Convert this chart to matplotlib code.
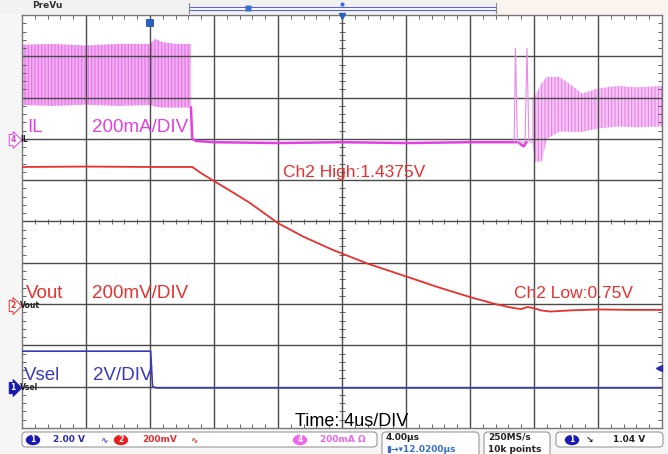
import matplotlib
import numpy as np

matplotlib.use("Agg")
import matplotlib.pyplot as plt  # noqa: E402
from matplotlib.patches import Ellipse, FancyBboxPatch, Rectangle  # noqa: E402

# Screen is 10 x 10 divisions; time in div (4 us/div), level in div from bottom.
# IL (ch4) switching band before the step: envelope of the ripple
IL_BAND_T = [0.0, 0.5, 1.0, 1.5, 2.0, 2.08, 2.2, 2.4, 2.64]
IL_BAND_HI = [9.28, 9.30, 9.26, 9.30, 9.30, 9.42, 9.34, 9.30, 9.30]
IL_BAND_LO = [7.82, 7.80, 7.83, 7.80, 7.82, 7.78, 7.76, 7.76, 7.76]

# IL while the converter idles
IL_T = [2.64, 2.66, 2.72, 3.0, 4.0, 5.0, 6.0, 7.0, 7.69, 7.76, 7.80, 7.84,
        7.88]
IL_V = [7.76, 7.00, 6.95, 6.92, 6.90, 6.92, 6.90, 6.92, 6.92, 6.92, 6.86,
        6.82, 6.92]

# the two restart pulses
SPIKE_T = [7.69, 7.71, 7.74, 7.86, 7.89, 7.92, 7.95, 7.98]
SPIKE_V = [6.92, 9.20, 6.92, 6.92, 9.20, 6.95, 6.92, 6.92]

# IL ringing after the restart
RING_T = [7.97, 8.02, 8.12, 8.2, 8.4, 8.6, 8.75, 9.0, 9.3, 9.6, 10.0]
RING_HI = [8.00, 8.05, 8.35, 8.50, 8.50, 8.28, 8.10, 8.22, 8.28, 8.25, 8.28]
RING_LO = [6.90, 6.45, 6.45, 7.00, 7.18, 7.17, 7.17, 7.25, 7.30, 7.28, 7.30]

# Vout (ch2) ramp from 1.4375 V down to 0.75 V
VOUT_T = [0.0, 1.0, 2.0, 2.66, 2.8, 3.02, 3.3, 3.56, 4.0, 4.4, 4.86, 5.4,
          6.02, 6.5, 7.0, 7.4, 7.66, 7.8, 7.9, 8.0, 8.1, 8.25, 8.6, 9.0,
          9.5, 10.0]
VOUT_V = [6.32, 6.33, 6.32, 6.32, 6.17, 5.96, 5.70, 5.45, 4.96, 4.63, 4.31,
          3.98, 3.66, 3.41, 3.17, 3.00, 2.91, 2.88, 2.93, 2.90, 2.85, 2.82,
          2.85, 2.87, 2.86, 2.86]

# Vsel (ch1) logic step
VSEL_T = [0.0, 1.0, 2.01, 2.04, 2.1, 5.0, 10.0]
VSEL_V = [1.86, 1.86, 1.86, 1.00, 0.97, 0.97, 0.97]

W, H = 668, 454
PINK = "#e040e0"
PINK_FILL = "#f3acf3"
RED = "#e8302f"
BLUE = "#3a3ab8"
GRID = "#4a4a4a"

plt.rcParams["font.family"] = ["Liberation Sans", "DejaVu Sans"]
plt.rcParams["hatch.linewidth"] = 0.7

fig = plt.figure(figsize=(W / 100, H / 100), dpi=100, facecolor="#f6f6f6")
ax = fig.add_axes([22 / W, 1 - 428 / H, 640 / W, 413 / H])
ax.set_facecolor("white")
ax.set_xlim(0, 10)
ax.set_ylim(0, 10)

# graticule
for k in range(1, 10):
    ax.axvline(k, color=GRID, lw=1.0, zorder=2)
    ax.axhline(k, color=GRID, lw=1.0, zorder=2)
minor = np.arange(0, 10.01, 0.2)
ax.vlines(minor, 5 - 0.07, 5 + 0.07, color=GRID, lw=0.6, zorder=2)
ax.hlines(minor, 5 - 0.05, 5 + 0.05, color=GRID, lw=0.6, zorder=2)
ax.set_xticks(range(11))
ax.set_yticks(range(11))
ax.set_xticks(minor, minor=True)
ax.set_yticks(minor, minor=True)
ax.tick_params(which="major", length=0, labelbottom=False, labelleft=False)
ax.tick_params(which="minor", direction="in", length=3, color=GRID, width=0.6,
               top=True, right=True)
for s in ax.spines.values():
    s.set_color("#777777")
    s.set_linewidth(1.0)

# traces
ax.fill_between(IL_BAND_T, IL_BAND_LO, IL_BAND_HI, facecolor=PINK_FILL,
                edgecolor="#e070e0", hatch="|||||", linewidth=0, zorder=1)
ax.fill_between(RING_T, RING_LO, RING_HI, facecolor="#f6c4f6",
                edgecolor="#e27ae2", hatch="|||||", linewidth=0, zorder=1)
ax.plot(IL_T, IL_V, color=PINK, lw=1.8, zorder=3)
ax.plot(SPIKE_T, SPIKE_V, color="#e88ae8", lw=0.8, zorder=3)
ax.plot(VOUT_T, VOUT_V, color=RED, lw=1.3, zorder=3)
ax.plot(VSEL_T, VSEL_V, color=BLUE, lw=1.2, zorder=3)

# overlay in pixel coordinates for screen annotations
ov = fig.add_axes([0, 0, 1, 1], zorder=5)
ov.set_xlim(0, W)
ov.set_ylim(H, 0)
ov.axis("off")
ov.patch.set_alpha(0)

big = dict(fontsize=13.5, va="center", ha="left")
ov.text(27, 127, "IL", color=PINK, **big)
ov.text(92, 127, "200mA/DIV", color=PINK, **big)
ov.text(26, 293, "Vout", color=RED, **big)
ov.text(92, 293, "200mV/DIV", color=RED, **big)
ov.text(24, 375, "Vsel", color=BLUE, **big)
ov.text(93, 375, "2V/DIV", color=BLUE, **big)
ov.text(283, 173, "Ch2 High:1.4375V", color=RED, fontsize=12.5,
        va="center", ha="left")
ov.text(514, 294, "Ch2 Low:0.75V", color=RED, fontsize=12.5,
        va="center", ha="left")
ov.text(295, 422, "Time: 4us/DIV", color="black", fontsize=13,
        va="center", ha="left")

# channel ground markers on the left
small = dict(fontsize=5.5, fontweight="bold", va="center", ha="center",
             family="DejaVu Sans")
ov.text(13, 140, "4", color=PINK,
        bbox=dict(boxstyle="rarrow,pad=0.15", fc="white", ec=PINK, lw=0.7),
        **small)
ov.text(13, 306, "2", color=RED,
        bbox=dict(boxstyle="rarrow,pad=0.15", fc="white", ec=RED, lw=0.7),
        **small)
ov.text(13, 388, "1", color="white",
        bbox=dict(boxstyle="rarrow,pad=0.15", fc="#1a1aa8", ec="#1a1aa8",
                  lw=0.7), **small)
lab = dict(fontsize=5.5, fontweight="bold", va="center", ha="left",
           color="#222222", family="DejaVu Sans")
ov.text(20, 140, "IL", **lab)
ov.text(20, 306, "Vout", **lab)
ov.text(20, 388, "Vsel", **lab)
ov.plot(659, 368, marker="<", color="#2a2ab0", ms=4)

# top bar
ov.add_patch(Rectangle((0, 0), 496, 14, fc="#f2f2f2", ec="none"))
ov.add_patch(Rectangle((496, 0), W - 496, 14, fc="#fbf3ee", ec="none"))
ov.text(32, 6, "PreVu", fontsize=6.5, fontweight="bold", color="#333333",
        va="center", ha="left", family="DejaVu Sans")
ov.add_patch(Rectangle((189, 7), 307, 3, fc="white", ec="#5a66c8", lw=0.8))
ov.plot([189, 189], [3, 13], color="#888888", lw=0.8)
ov.plot([496, 496], [3, 13], color="#888888", lw=0.8)
ov.add_patch(FancyBboxPatch((246, 6), 5, 5, boxstyle="round,pad=0.5",
                            fc="#3a6fd0", ec="none"))
ov.plot(342, 4, marker="o", color="#3a6fd0", ms=2)
ov.plot(342, 16, marker="v", color="#2a5fc0", ms=5)
ov.add_patch(FancyBboxPatch((147, 20), 6, 6, boxstyle="round,pad=1",
                            fc="#2a5fc0", ec="none"))

# status bar
st = dict(fontsize=6.5, fontweight="bold", va="center", ha="left",
          family="DejaVu Sans")
for x0, x1, y1 in [(22, 377, 447), (382, 479, 458), (484, 550, 458),
                   (556, 663, 447)]:
    ov.add_patch(FancyBboxPatch((x0, 432), x1 - x0, y1 - 432,
                                boxstyle="round,pad=0,rounding_size=4",
                                fc="white", ec="#9a9a9a", lw=0.8))


def badge(x, y, num, color):
    ov.add_patch(Ellipse((x, y), 13, 9, color=color))
    ov.text(x, y, num, color="white", fontsize=5.5, fontweight="bold",
            ha="center", va="center", family="DejaVu Sans")


badge(33, 440, "1", "#1a1ab0")
ov.text(53, 440, "2.00 V", color="#2a2ab0", **st)
ov.text(100, 440, "\u223f", color="#4a4ac0", **st)
badge(121, 440, "2", "#e82020")
ov.text(142, 440, "200mV", color="#e03030", **st)
ov.text(190, 440, "\u223f", color="#e04040", **st)
badge(300, 440, "4", "#ee66ee")
ov.text(320, 440, "200mA \u03a9", color="#ee66ee", **st)
ov.text(386, 437, "4.00\u00b5s", color="#222222", **st)
ov.text(386, 449, "\u25ae\u2192\u25be12.0200\u00b5s", color="#3a6fd0", **st)
ov.text(488, 437, "250MS/s", color="#222222", **st)
ov.text(488, 449, "10k points", color="#222222", **st)
badge(572, 440, "1", "#1a1ab0")
ov.text(586, 440, "\u2198", color="#222222", **st)
ov.text(613, 440, "1.04 V", color="#222222", **st)

fig.savefig("out.png", dpi=100, facecolor=fig.get_facecolor())
